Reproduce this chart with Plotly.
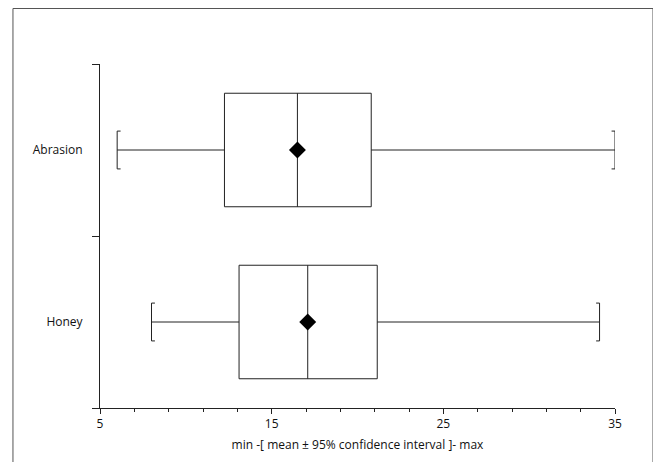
import plotly.graph_objects as go

# ---- data ----
categories = ["Honey", "Abrasion"]
mins = [8.0, 6.0]
q1s = [13.1, 12.25]
means = [17.1, 16.5]
q3s = [21.15, 20.8]
maxs = [34.1, 35.0]
x_ticks = [5, 15, 25, 35]
x_title = "min -[ mean \u00b1 95% confidence interval ]- max"

positions = list(range(len(categories)))
FONT = "Open Sans"
LINE = "#222222"

fig = go.Figure()

fig.add_trace(go.Box(
    orientation="h",
    y=positions,
    q1=q1s, median=means, q3=q3s,
    lowerfence=mins, upperfence=maxs,
    width=0.66,
    whiskerwidth=0,
    fillcolor="white",
    line=dict(color=LINE, width=1),
    hoverinfo="skip",
    showlegend=False,
))

# whisker caps: "[" at min, "]" at max
cap_h = 0.11
stub = 0.2
for p, lo, hi in zip(positions, mins, maxs):
    fig.add_trace(go.Scatter(
        x=[lo + stub, lo, lo, lo + stub], y=[p + cap_h, p + cap_h, p - cap_h, p - cap_h],
        mode="lines", line=dict(color=LINE, width=1), showlegend=False, hoverinfo="skip"))
    fig.add_trace(go.Scatter(
        x=[hi - stub, hi, hi, hi - stub], y=[p + cap_h, p + cap_h, p - cap_h, p - cap_h],
        mode="lines", line=dict(color=LINE, width=1), showlegend=False, hoverinfo="skip"))

# mean diamonds
fig.add_trace(go.Scatter(
    x=means, y=positions, mode="markers",
    marker=dict(symbol="diamond", size=13, color="black"),
    showlegend=False, hoverinfo="skip"))

# page has an 8px body margin, so the figure is offset by 8px
fig.update_layout(
    width=653, height=454,
    margin=dict(l=92, r=46, t=56, b=54),
    paper_bgcolor="white", plot_bgcolor="white",
    font=dict(family=FONT, size=12, color="#111111"),
    showlegend=False,
    shapes=[dict(type="path", xref="paper", yref="paper",
                 path="M -0.169 -0.3 L -0.169 1.1613 L 1.0738 1.1613 L 1.0738 -0.3",
                 line=dict(color="#555555", width=1))],
)

fig.update_xaxes(
    range=[5, 35], tickvals=x_ticks, ticktext=[str(t) for t in x_ticks],
    showgrid=False, zeroline=False,
    showline=True, linecolor=LINE, linewidth=1,
    ticks="outside", ticklen=5, tickcolor=LINE,
    minor=dict(dtick=2, tick0=5, ticks="outside", ticklen=3, tickcolor=LINE, showgrid=False),
    title=dict(text=x_title, standoff=9, font=dict(size=12)),
)

fig.update_yaxes(
    range=[-0.5, 1.5], tickvals=positions, ticktext=categories,
    showgrid=False, zeroline=False,
    showline=True, linecolor=LINE, linewidth=1,
    ticks="", ticklabelstandoff=14,
    minor=dict(tickmode="array", tickvals=[p - 0.5 for p in positions] + [positions[-1] + 0.5],
               ticks="outside", ticklen=7, tickcolor=LINE, showgrid=False),
)

fig.write_html("out.html")
